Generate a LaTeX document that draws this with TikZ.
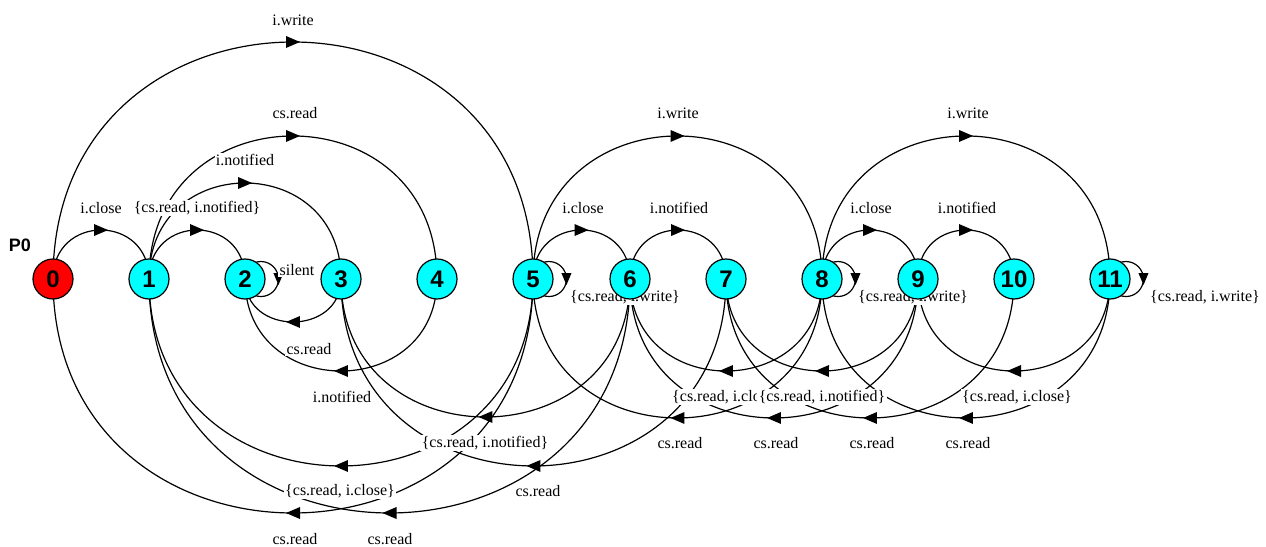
\documentclass[tikz,border=0pt]{standalone}
\usepackage{fontspec}
\setmainfont{Liberation Serif}
\setsansfont{Liberation Sans}
\usetikzlibrary{decorations.markings,backgrounds}
\definecolor{statecyan}{RGB}{0,255,255}
\definecolor{statered}{RGB}{255,0,0}
\begin{document}
\begin{tikzpicture}[x=0.75pt,y=0.75pt,
  st/.style={circle,draw=black,line width=0.9pt,fill=statecyan,minimum size=30pt,inner sep=0pt,
    font=\fontsize{18}{20}\selectfont\sffamily\bfseries},
  lbl/.style={fill=white,inner sep=1pt,font=\fontsize{12}{14}\selectfont},
  edge/.style={line width=0.9pt,postaction={decorate},
    decoration={markings,mark=at position 0.5 with {\fill (5.25pt,0pt) -- (-5.25pt,4.5pt) -- (-5.25pt,-4.5pt) -- cycle;}}},
  loopst/.style={line width=0.9pt,postaction={decorate},
    decoration={markings,mark=at position 0.5 with {\fill (4.5pt,0pt) -- (-4.5pt,3.8pt) -- (-4.5pt,-3.8pt) -- cycle;}}}]
\useasboundingbox (0,-267) rectangle (1266,279);
% states
\node[st,fill=statered] (n0) at (53,0) {0};
\node[st] (n1) at (149,0) {1};
\node[st] (n2) at (245,0) {2};
\node[st] (n3) at (341,0) {3};
\node[st] (n4) at (437,0) {4};
\node[st] (n5) at (533,0) {5};
\node[st] (n6) at (630,0) {6};
\node[st] (n7) at (726,0) {7};
\node[st] (n8) at (822,0) {8};
\node[st] (n9) at (918,0) {9};
\node[st] (n10) at (1014,0) {10};
\node[st] (n11) at (1110,0) {11};
\node[font=\fontsize{13.5}{15}\selectfont\sffamily\bfseries] (p0) at (20,34) {P0};
\begin{pgfonlayer}{background}
% forward transitions (above)
\draw[edge] (n0.center) .. controls +(0,65.3) and +(0,65.3) .. (n1.center);
\draw[edge] (n1.center) .. controls +(0,65.3) and +(0,65.3) .. (n2.center);
\draw[edge] (n1.center) .. controls +(0,128) and +(0,128) .. (n3.center);
\draw[edge] (n1.center) .. controls +(0,190.7) and +(0,190.7) .. (n4.center);
\draw[edge] (n0.center) .. controls +(0,316) and +(0,316) .. (n5.center);
\draw[edge] (n5.center) .. controls +(0,65.3) and +(0,65.3) .. (n6.center);
\draw[edge] (n6.center) .. controls +(0,65.3) and +(0,65.3) .. (n7.center);
\draw[edge] (n5.center) .. controls +(0,190.7) and +(0,190.7) .. (n8.center);
\draw[edge] (n8.center) .. controls +(0,65.3) and +(0,65.3) .. (n9.center);
\draw[edge] (n9.center) .. controls +(0,65.3) and +(0,65.3) .. (n10.center);
\draw[edge] (n8.center) .. controls +(0,190.7) and +(0,190.7) .. (n11.center);
% backward transitions (below)
\draw[edge] (n3.center) .. controls +(0,-57.3) and +(0,-57.3) .. (n2.center);
\draw[edge] (n4.center) .. controls +(0,-122.7) and +(0,-122.7) .. (n2.center);
\draw[edge] (n6.center) .. controls +(0,-184) and +(0,-184) .. (n3.center);
\draw[edge] (n5.center) .. controls +(0,-249.3) and +(0,-249.3) .. (n1.center);
\draw[edge] (n7.center) .. controls +(0,-249.3) and +(0,-249.3) .. (n3.center);
\draw[edge] (n5.center) .. controls +(0,-312) and +(0,-312) .. (n0.center);
\draw[edge] (n6.center) .. controls +(0,-312) and +(0,-312) .. (n1.center);
\draw[edge] (n8.center) .. controls +(0,-122.7) and +(0,-122.7) .. (n6.center);
\draw[edge] (n9.center) .. controls +(0,-122.7) and +(0,-122.7) .. (n7.center);
\draw[edge] (n11.center) .. controls +(0,-122.7) and +(0,-122.7) .. (n9.center);
\draw[edge] (n8.center) .. controls +(0,-185.3) and +(0,-185.3) .. (n5.center);
\draw[edge] (n9.center) .. controls +(0,-185.3) and +(0,-185.3) .. (n6.center);
\draw[edge] (n10.center) .. controls +(0,-185.3) and +(0,-185.3) .. (n7.center);
\draw[edge] (n11.center) .. controls +(0,-185.3) and +(0,-185.3) .. (n8.center);
% self loops
\draw[loopst] (n2.center) ++(9.4,16.2) arc[start angle=112,end angle=-112,radius=17.5];
\draw[loopst] (n5.center) ++(9.4,16.2) arc[start angle=112,end angle=-112,radius=17.5];
\draw[loopst] (n8.center) ++(9.4,16.2) arc[start angle=112,end angle=-112,radius=17.5];
\draw[loopst] (n11.center) ++(9.4,16.2) arc[start angle=112,end angle=-112,radius=17.5];
% labels
\node[lbl] (l05) at (293,259) {i.write};
\node[lbl] (l14) at (295,166) {cs.read};
\node[lbl] (l13) at (245,119) {i.notified};
\node[lbl] (l01) at (101,71) {i.close};
\node[lbl] (l12) at (197,71) {\{cs.read, i.notified\}};
\node[lbl] (l58) at (678,166) {i.write};
\node[lbl] (l56) at (583,71) {i.close};
\node[lbl] (l67) at (679,71) {i.notified};
\node[lbl] (l811) at (968,166) {i.write};
\node[lbl] (l89) at (871,71) {i.close};
\node[lbl] (l910) at (967,71) {i.notified};
\node[lbl] (s2) at (297,9) {silent};
\node[lbl] (s5) at (625,-18) {\{cs.read, i.write\}};
\node[lbl] (s8) at (913,-18) {\{cs.read, i.write\}};
\node[lbl] (s11) at (1205,-18) {\{cs.read, i.write\}};
\node[lbl] (l32) at (309,-70) {cs.read};
\node[lbl] (l42) at (342,-118) {i.notified};
\node[lbl] (l63) at (485,-164) {\{cs.read, i.notified\}};
\node[lbl] (l51) at (340,-212) {\{cs.read, i.close\}};
\node[lbl] (l73) at (538,-212) {cs.read};
\node[lbl] (l50) at (295,-260) {cs.read};
\node[lbl] (l61) at (390,-260) {cs.read};
\node[lbl] (l86) at (727,-118) {\{cs.read, i.close\}};
\node[lbl] (l97) at (822,-118) {\{cs.read, i.notified\}};
\node[lbl] (l119) at (1017,-118) {\{cs.read, i.close\}};
\node[lbl] (l85) at (680,-164) {cs.read};
\node[lbl] (l96) at (776,-164) {cs.read};
\node[lbl] (l107) at (872,-164) {cs.read};
\node[lbl] (l118) at (968,-164) {cs.read};
\end{pgfonlayer}
\end{tikzpicture}
\end{document}
